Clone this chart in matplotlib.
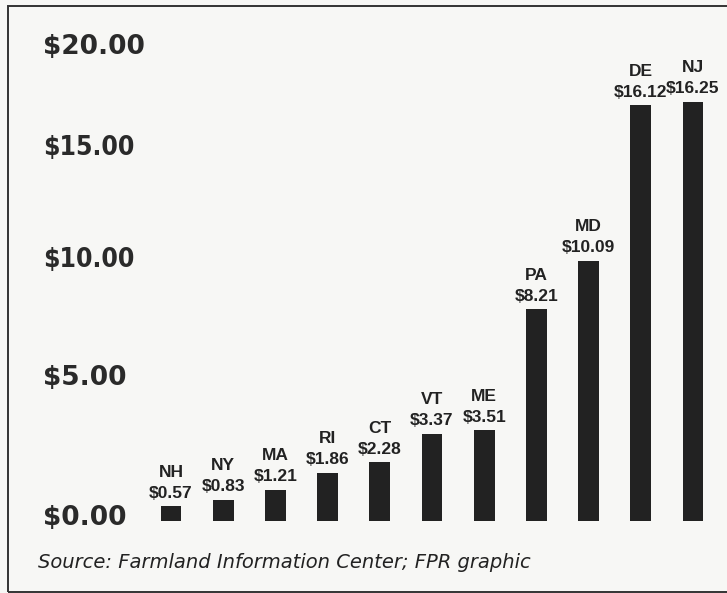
import matplotlib.pyplot as plt
from matplotlib.patches import Rectangle

states = ['NH', 'NY', 'MA', 'RI', 'CT', 'VT', 'ME', 'PA', 'MD', 'DE', 'NJ']
values = [0.57, 0.83, 1.21, 1.86, 2.28, 3.37, 3.51, 8.21, 10.09, 16.12, 16.25]
tick_labels = ['$0.00', '$5.00', '$10.00', '$15.00', '$20.00']
# where the printed graphic puts its tick labels (not evenly spaced)
tick_pos = [0.23, 5.66, 10.23, 14.57, 18.5]

W, H = 727, 593
fig = plt.figure(figsize=(W / 100, H / 100), dpi=100)
fig.patch.set_facecolor('#f7f7f5')

# frame of the scanned graphic
fig.add_artist(Rectangle((8 / W, 1 - 592 / H), 2, (592 - 6) / H,
                         transform=fig.transFigure, fill=False,
                         edgecolor='#333333', linewidth=1.4))

left_px, right_px, bottom_px, top_px = 140, 727, 521, 20
ax = fig.add_axes([left_px / W, (H - bottom_px) / H,
                   (right_px - left_px) / W, (bottom_px - top_px) / H])
ax.set_facecolor('none')
px_unit = 25.8
ax.set_ylim(0, (bottom_px - top_px) / px_unit)
step = 52.2
x0 = 171
ax.set_xlim((left_px - x0) / step, (right_px - x0) / step)

xs = list(range(len(states)))
ax.bar(xs, values, width=0.4, color='#222222')

for x, s, v in zip(xs, states, values):
    ax.annotate(s + '\n$' + format(v, '.2f'), (x, v), xytext=(0, 4),
                textcoords='offset points', ha='center', va='bottom',
                fontsize=12.5, fontweight='bold', family='Liberation Sans',
                color='#222222', linespacing=1.5)

ax.set_yticks(tick_pos)
ax.set_yticklabels(tick_labels, fontsize=19, fontweight='bold',
                   family='DejaVu Sans', color='#2a2a2a', ha='left')
for lab in ax.get_yticklabels()[2:4]:
    lab.set_fontstretch('condensed')
ax.tick_params(axis='y', length=0, pad=70)
ax.set_xticks([])
for sp in ax.spines.values():
    sp.set_visible(False)

fig.text(38 / W, 1 - 563 / H, 'Source: Farmland Information Center; FPR graphic',
         fontsize=14, style='italic', family='DejaVu Sans', color='#222222',
         ha='left', va='center')

fig.savefig('out.png', dpi=100, facecolor=fig.get_facecolor())
